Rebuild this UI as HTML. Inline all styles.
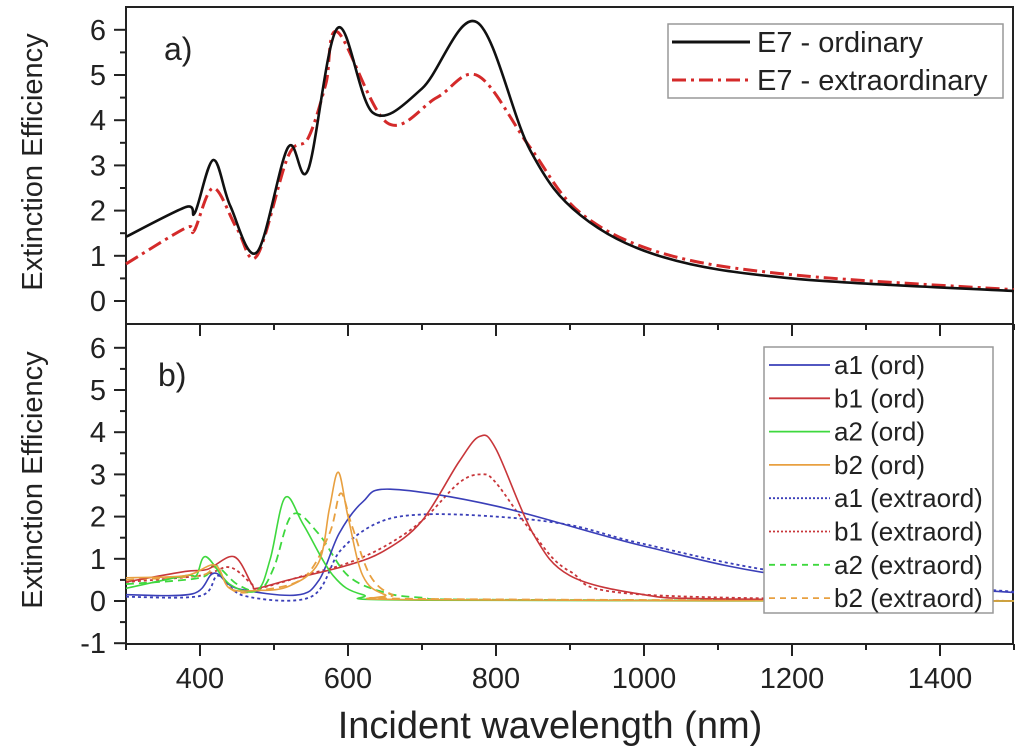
<!DOCTYPE html>
<html><head><meta charset="utf-8"><style>
body{margin:0;background:#fff;}
svg{display:block;font-family:"Liberation Sans",Arial,sans-serif;}
</style></head><body>
<svg id="chart" width="1024" height="756" viewBox="0 0 1024 756">
<g id="axes"></g><g id="series"></g><g id="legends"></g>
</svg>
<script>
// ---- data ----
const xTicks=[400,600,800,1000,1200,1400];
const yTicksTop=[0,1,2,3,4,5,6];
const yTicksBot=[-1,0,1,2,3,4,5,6];
const ordX=[300,381,393,418,441,477,519,546,586,634,700,774,846,914,1026,1200,1500];
const ordY=[1.42,2.08,1.95,3.12,2.1,1.08,3.4,2.9,6.04,4.16,4.7,6.17,3.34,1.9,0.97,0.5,0.22];
const extX=[300,381,392,418,450,477,519,546,570,586,653,720,776,846,914,1026,1200,1500];
const extY=[0.82,1.62,1.55,2.5,1.6,1.0,3.2,3.6,4.8,5.95,3.94,4.5,4.98,3.4,1.95,1.05,0.58,0.25];
const a1oX=[300,390,419,450,530,561,588,620,657,800,1000,1200,1500];
const a1oY=[0.15,0.17,0.66,0.3,0.14,0.5,1.6,2.35,2.65,2.25,1.3,0.58,0.2];
const a1eX=[300,400,425,460,550,590,640,700,800,900,1000,1200,1500];
const a1eY=[0.1,0.12,0.6,0.12,0.1,1.2,1.85,2.05,2.0,1.8,1.35,0.65,0.22];
const b1oX=[300,380,410,446,470,477,520,600,650,700,750,778,800,850,900,1000,1100,1500];
const b1oY=[0.45,0.7,0.75,1.05,0.4,0.3,0.5,0.85,1.2,1.9,3.3,3.9,3.6,1.6,0.6,0.15,0.05,0.0];
const b1eX=[300,400,440,470,480,550,600,650,700,750,780,800,850,900,1000,1500];
const b1eY=[0.45,0.6,0.8,0.4,0.3,0.65,0.9,1.3,1.9,2.8,3.0,2.8,1.6,0.7,0.15,0.0];
const a2oX=[300,380,395,408,440,477,495,515,540,580,620,700,1500];
const a2oY=[0.3,0.6,0.6,1.05,0.4,0.25,1.0,2.45,1.8,0.6,0.15,0.02,0.0];
const a2eX=[300,400,420,450,480,500,525,560,600,650,700,800,1500];
const a2eY=[0.4,0.55,0.85,0.4,0.25,0.8,2.05,1.6,0.6,0.2,0.08,0.03,0.0];
const b2oX=[300,380,420,440,477,520,560,575,587,600,620,650,700,1500];
const b2oY=[0.55,0.6,0.85,0.3,0.25,0.35,0.9,2.2,3.05,2.0,0.6,0.15,0.03,0.0];
const b2eX=[300,400,420,445,480,540,575,590,605,630,660,700,1500];
const b2eY=[0.5,0.6,0.8,0.25,0.25,0.55,1.6,2.55,1.8,0.6,0.15,0.05,0.0];

const NS="http://www.w3.org/2000/svg";
const X=v=>126+(v-300)*0.74;
const YT=v=>301-v*45.2;
const YB=v=>601-v*42.2;
function el(tag,attrs,parent){const e=document.createElementNS(NS,tag);for(const k in attrs)e.setAttribute(k,attrs[k]);parent.appendChild(e);return e;}
const axes=document.getElementById('axes'),ser=document.getElementById('series'),leg=document.getElementById('legends');

let f1=el('rect',{x:126,y:7,width:887,height:317,fill:'none',stroke:'#222','stroke-width':2},axes);

let f2=el('rect',{x:126,y:324,width:887,height:320,fill:'none',stroke:'#222','stroke-width':2},axes);


for(let v=300;v<=1500;v+=100){
  const major=xTicks.includes(v);const x=X(v);
  let t=el('line',{x1:x,x2:x,y1:644,y2:644+(major?12:6),stroke:'#222','stroke-width':2},axes);
  
  let t2=el('line',{x1:x,x2:x,y1:324,y2:324+(major?12:6),stroke:'#222','stroke-width':2},axes);
  
}
xTicks.forEach(v=>{let t=el('text',{x:X(v),y:688,'font-size':29,'text-anchor':'middle',fill:'#222'},axes);t.textContent=v;
  });
for(let v=0;v<=6.01;v+=0.5){const y=YT(v),maj=Math.abs(v-Math.round(v))<0.01;
  let t=el('line',{x1:126-(maj?12:6),x2:126,y1:y,y2:y,stroke:'#222','stroke-width':2},axes);
  }
yTicksTop.forEach(v=>{let t=el('text',{x:106,y:YT(v)+10,'font-size':29,'text-anchor':'end',fill:'#222'},axes);t.textContent=v;
  });
for(let v=-1;v<=6.01;v+=0.5){const y=YB(v),maj=Math.abs(v-Math.round(v))<0.01;
  let t=el('line',{x1:126-(maj?12:6),x2:126,y1:y,y2:y,stroke:'#222','stroke-width':2},axes);
  }
yTicksBot.forEach(v=>{let t=el('text',{x:106,y:YB(v)+10,'font-size':29,'text-anchor':'end',fill:'#222'},axes);t.textContent=v;
  });

function txt(s,attrs,name){let t=el('text',attrs,axes);t.textContent=s;return t;}
txt('Extinction Efficiency',{x:0,y:0,'font-size':29,'text-anchor':'middle',fill:'#222',transform:'translate(42,162) rotate(-90)'},'y-axis-title-top');
txt('Extinction Efficiency',{x:0,y:0,'font-size':29,'text-anchor':'middle',fill:'#222',transform:'translate(42,480) rotate(-90)'},'y-axis-title-bottom');
txt('Incident wavelength (nm)',{x:550,y:738,'font-size':38,'text-anchor':'middle',fill:'#222'},'x-axis-title');
txt('a)',{x:164,y:60,'font-size':32,fill:'#222'},'panel-label-a');
txt('b)',{x:158,y:386,'font-size':32,fill:'#222'},'panel-label-b');

function pathD(xs,ys,Y){const p=xs.map((x,i)=>[X(x),Y(ys[i])]);let d=`M${p[0][0]},${p[0][1]}`;
  for(let i=0;i<p.length-1;i++){const p0=p[i-1]||p[i],p1=p[i],p2=p[i+1],p3=p[i+2]||p2;
    const c1=[p1[0]+(p2[0]-p0[0])/6,p1[1]+(p2[1]-p0[1])/6],c2=[p2[0]-(p3[0]-p1[0])/6,p2[1]-(p3[1]-p1[1])/6];
    d+=` C${c1[0]},${c1[1]} ${c2[0]},${c2[1]} ${p2[0]},${p2[1]}`;}return d;}
function draw(xs,ys,Y,color,w,dash,name){let p=el('path',{d:pathD(xs,ys,Y),fill:'none',stroke:color,'stroke-width':w,'stroke-dasharray':dash||'none'},ser);
  }
const BL='#3a3fb8',RD='#c8363a',GR='#3ed83e',OR='#e8a040';
draw(extX,extY,YT,'#d42a2a',3,'14,5,3,5','line-e7-extraordinary');
draw(ordX,ordY,YT,'#111',2.6,null,'line-e7-ordinary');
draw(a1eX,a1eY,YB,BL,1.8,'3,3','line-a1-extraord');
draw(b1eX,b1eY,YB,RD,1.8,'3,3','line-b1-extraord');
draw(a2eX,a2eY,YB,GR,1.8,'8,5','line-a2-extraord');
draw(b2eX,b2eY,YB,OR,1.8,'8,5','line-b2-extraord');
draw(a1oX,a1oY,YB,BL,1.6,null,'line-a1-ord');
draw(b1oX,b1oY,YB,RD,1.6,null,'line-b1-ord');
draw(a2oX,a2oY,YB,GR,1.6,null,'line-a2-ord');
draw(b2oX,b2oY,YB,OR,1.6,null,'line-b2-ord');

let lb1=el('rect',{x:668,y:24,width:335,height:74,fill:'#fff',stroke:'#999','stroke-width':1.5},leg);

[['E7 - ordinary','#111',null,42],['E7 - extraordinary','#d42a2a','14,5,3,5',80]].forEach(([s,c,d,y])=>{
  let l=el('line',{x1:672,x2:750,y1:y,y2:y,stroke:c,'stroke-width':3,'stroke-dasharray':d||'none'},leg);
  
  let t=el('text',{x:757,y:y+10,'font-size':29,fill:'#222'},leg);t.textContent=s;
  });
let lb2=el('rect',{x:764,y:347,width:229,height:266,fill:'#fff',stroke:'#999','stroke-width':1.5},leg);

const legNames=['a1 (ord)','b1 (ord)','a2 (ord)','b2 (ord)','a1 (extraord)','b1 (extraord)','a2 (extraord)','b2 (extraord)'];
const legCols=[BL,RD,GR,OR,BL,RD,GR,OR];
const legDash=[null,null,null,null,'2,2','2,2','6,5','6,5'];
legNames.forEach((s,i)=>{const y=365+i*33.3;
  let l=el('line',{x1:769,x2:830,y1:y,y2:y,stroke:legCols[i],'stroke-width':1.8,'stroke-dasharray':legDash[i]||'none'},leg);
  
  let t=el('text',{x:834,y:y+9,'font-size':26,fill:'#222'},leg);t.textContent=s;
  });
</script>
</body></html>
